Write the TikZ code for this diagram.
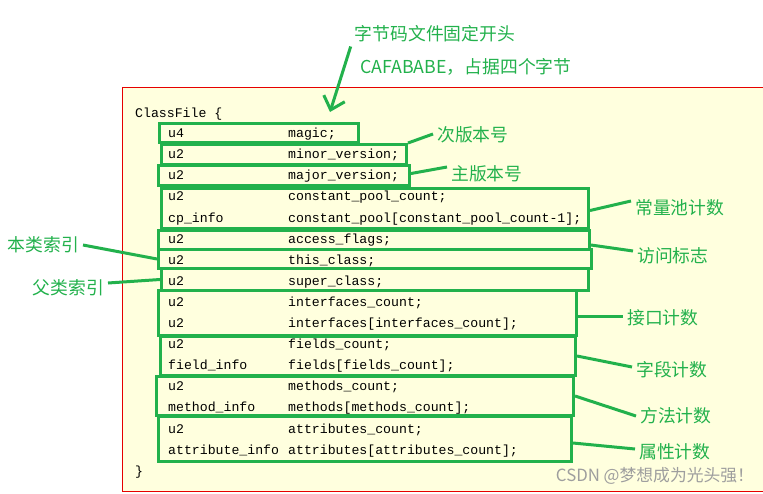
\documentclass[tikz,border=0pt]{standalone}
\usepackage{fontspec}
\setmonofont{Liberation Mono}
\newfontfamily\cjk{Noto Sans CJK SC}
\definecolor{pgreen}{RGB}{34,177,76}
\definecolor{pyellow}{RGB}{255,255,222}
\definecolor{pred}{RGB}{230,0,0}
\usetikzlibrary{arrows.meta}

\begin{document}
\begin{tikzpicture}[
  x=1pt, y=-1pt,
  code/.style={font=\fontsize{13.2}{14}\selectfont\ttfamily, inner sep=0pt, anchor=base west},
  grp/.style={draw=pgreen, line width=3pt, anchor=north west, inner sep=0pt},
  note/.style={font=\cjk\fontsize{17.8}{20}\selectfont, text=pgreen, inner sep=4pt},
  lnk/.style={draw=pgreen, line width=3pt},
  wmark/.style={font=\cjk\fontsize{16.8}{18}\selectfont, text=black!38, inner sep=0pt}
]
\useasboundingbox (0,0) rectangle (763,493);
% class file frame
\draw[pred, fill=pyellow, line width=1pt] (122,87) rectangle (770,491);

% code listing
\node[code] (hd) at (135,117) {ClassFile \{};
\foreach \ty/\fd [count=\i] in {
  u4/magic;, u2/minor\_version;, u2/major\_version;,
  u2/constant\_pool\_count;, cp\_info/constant\_pool[constant\_pool\_count-1];,
  u2/access\_flags;, u2/this\_class;, u2/super\_class;,
  u2/interfaces\_count;, u2/interfaces[interfaces\_count];,
  u2/fields\_count;, field\_info/fields[fields\_count];,
  u2/methods\_count;, method\_info/methods[methods\_count];,
  u2/attributes\_count;, attribute\_info/attributes[attributes\_count];}{
  \node[code] (ty\i) at (168,{116.5+21.1*\i}) {\ty};
  \node[code] (fd\i) at (288,{116.5+21.1*\i}) {\fd};
}
\node[code] (tl) at (135,475) {\}};

% green groups
\node[grp, minimum width=199pt, minimum height=19pt] (bmagic) at (158,122) {};
\node[grp, minimum width=245pt, minimum height=20pt] (bminor) at (160,143) {};
\node[grp, minimum width=251pt, minimum height=20pt] (bmajor) at (157,164) {};
\node[grp, minimum width=427pt, minimum height=40pt] (bcp) at (160,187) {};
\node[grp, minimum width=431pt, minimum height=19pt] (bacc) at (157,229) {};
\node[grp, minimum width=433pt, minimum height=19pt] (bthis) at (157,248) {};
\node[grp, minimum width=427pt, minimum height=22pt] (bsuper) at (160,267) {};
\node[grp, minimum width=418pt, minimum height=45pt] (bif) at (157,289) {};
\node[grp, minimum width=415pt, minimum height=39pt] (bfld) at (159,335) {};
\node[grp, minimum width=417pt, minimum height=39pt] (bmth) at (155,375) {};
\node[grp, minimum width=413pt, minimum height=45pt] (battr) at (157,415) {};

% notes
\node[note] (lhead) at (435,34) {字节码文件固定开头};
\node[note, anchor=west] (lmagic) at (356,67) {CAFABABE，占据四个字节};
\node[note, anchor=west] (lminor) at (433,135) {次版本号};
\node[note, anchor=west] (lmajor) at (447,174) {主版本号};
\node[note, anchor=west] (lcp) at (631,208) {常量池计数};
\node[note, anchor=west] (lacc) at (633,256) {访问标志};
\node[note, anchor=east] (lthis) at (83,245) {本类索引};
\node[note, anchor=east] (lsuper) at (108,288) {父类索引};
\node[note, anchor=west] (lif) at (623,318) {接口计数};
\node[note, anchor=west] (lfld) at (632,370) {字段计数};
\node[note, anchor=west] (lmth) at (636,416) {方法计数};
\node[note, anchor=west] (lattr) at (635,452) {属性计数};
\node[wmark] (wm) at (655,476) {CSDN @梦想成为光头强！};

% connectors
\coordinate (magictip) at (330,112);
\draw[lnk, -{Straight Barb[length=12pt, width=22pt]}] (lhead.south west) -- (magictip);
\draw[lnk] (bminor.north east) -- ([yshift=1pt]lminor.west);
\draw[lnk] ([yshift=2pt]bmajor.east) -- ([yshift=7pt]lmajor.west);
\draw[lnk] ([yshift=-2pt]bcp.east) -- ([yshift=7pt]lcp.west);
\draw[lnk] ([yshift=-5pt]bacc.east) -- ([yshift=5pt]lacc.west);
\draw[lnk] (lthis.east) -- (bthis.west);
\draw[lnk] ([yshift=5pt]lsuper.east) -- (bsuper.west);
\draw[lnk] ([yshift=-3pt]bif.east) -- ([yshift=2pt]lif.west);
\draw[lnk] (bfld.east) -- ([yshift=3pt]lfld.west);
\draw[lnk] (bmth.east) -- (lmth.west);
\draw[lnk] ([yshift=-4pt]battr.east) -- ([yshift=3pt]lattr.west);
\end{tikzpicture}
\end{document}
